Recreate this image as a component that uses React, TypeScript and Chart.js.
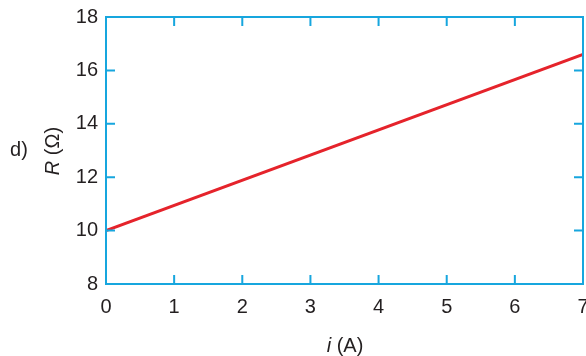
import React, { useEffect, useRef } from "react";
import { Chart, registerables } from "chart.js";

Chart.register(...registerables);

const currentA: number[] = [0, 7];
const resistanceOhm: number[] = [10, 16.6];
const xTicks: number[] = [0, 1, 2, 3, 4, 5, 6, 7];
const yTicks: number[] = [8, 10, 12, 14, 16, 18];

const AXIS_BLUE = "#17a6de";
const LINE_RED = "#e5232b";
const TEXT = "#231f20";
const FONT = "'Liberation Sans', Arial, sans-serif";
const FS = 20;

const framePlugin = {
  id: "frame",
  afterDraw(chart: any) {
    const { ctx, chartArea, scales } = chart;
    const { left, right, top, bottom } = chartArea;
    ctx.save();
    ctx.strokeStyle = AXIS_BLUE;
    ctx.lineWidth = 2;
    ctx.strokeRect(left, top, right - left, bottom - top);
    const tl = 9;
    ctx.beginPath();
    xTicks.slice(1, -1).forEach((v) => {
      const px = scales.x.getPixelForValue(v);
      ctx.moveTo(px, bottom);
      ctx.lineTo(px, bottom - tl);
      ctx.moveTo(px, top);
      ctx.lineTo(px, top + tl);
    });
    yTicks.slice(1, -1).forEach((v) => {
      const py = scales.y.getPixelForValue(v);
      ctx.moveTo(left, py);
      ctx.lineTo(left + tl, py);
      ctx.moveTo(right, py);
      ctx.lineTo(right - tl, py);
    });
    ctx.stroke();

    ctx.fillStyle = TEXT;
    ctx.textBaseline = "middle";
    ctx.textAlign = "center";
    ctx.font = `${FS}px ${FONT}`;
    ctx.fillText("d)", 19, 150);

    const xi = "i";
    const xr = " (A)";
    ctx.font = `italic ${FS}px ${FONT}`;
    const wi = ctx.measureText(xi).width;
    ctx.font = `${FS}px ${FONT}`;
    const wr = ctx.measureText(xr).width;
    const xStart = 345 - (wi + wr) / 2;
    ctx.textAlign = "left";
    ctx.font = `italic ${FS}px ${FONT}`;
    ctx.fillText(xi, xStart, 346);
    ctx.font = `${FS}px ${FONT}`;
    ctx.fillText(xr, xStart + wi, 346);

    ctx.translate(53, 151);
    ctx.rotate(-Math.PI / 2);
    const yi = "R";
    const yr = " (Ω)";
    ctx.font = `italic ${FS}px ${FONT}`;
    const wyi = ctx.measureText(yi).width;
    ctx.font = `${FS}px ${FONT}`;
    const wyr = ctx.measureText(yr).width;
    const yStart = -(wyi + wyr) / 2;
    ctx.font = `italic ${FS}px ${FONT}`;
    ctx.fillText(yi, yStart, 0);
    ctx.font = `${FS}px ${FONT}`;
    ctx.fillText(yr, yStart + wyi, 0);
    ctx.restore();
  },
};

export default function App() {
  const ref = useRef<HTMLCanvasElement | null>(null);
  useEffect(() => {
    if (!ref.current) return;
    const chart = new Chart(ref.current, {
      type: "line",
      data: {
        datasets: [
          {
            data: currentA.map((x, i) => ({ x, y: resistanceOhm[i] })),
            borderColor: LINE_RED,
            borderWidth: 3,
            pointRadius: 0,
            fill: false,
          },
        ],
      },
      options: {
        animation: false,
        responsive: false,
        maintainAspectRatio: false,
        layout: { padding: { top: 17, right: 3, left: 0, bottom: 0 } },
        plugins: { legend: { display: false }, tooltip: { enabled: false } },
        scales: {
          x: {
            type: "linear",
            min: 0,
            max: 7,
            afterBuildTicks: (s: any) => {
              s.ticks = xTicks.map((v) => ({ value: v }));
            },
            afterFit: (s: any) => {
              s.height = 356 - 284;
              s.paddingLeft = 0;
              s.paddingRight = 0;
            },
            ticks: {
              color: TEXT,
              font: { family: FONT, size: FS },
              padding: 11,
              maxRotation: 0,
              autoSkip: false,
            },
            grid: { display: false, drawTicks: false },
            border: { display: false },
          },
          y: {
            type: "linear",
            min: 8,
            max: 18,
            afterBuildTicks: (s: any) => {
              s.ticks = yTicks.map((v) => ({ value: v }));
            },
            afterFit: (s: any) => {
              s.width = 106;
              s.paddingTop = 0;
              s.paddingBottom = 0;
            },
            ticks: {
              color: TEXT,
              font: { family: FONT, size: FS },
              padding: 8,
              autoSkip: false,
            },
            grid: { display: false, drawTicks: false },
            border: { display: false },
          },
        },
      },
      plugins: [framePlugin],
    } as any);
    return () => chart.destroy();
  }, []);
  return (
    <div style={{ position: "fixed", left: 0, top: 0, width: 586, height: 356, background: "#fff" }}>
      <canvas ref={ref} width={586} height={356} style={{ width: 586, height: 356 }} />
    </div>
  );
}
